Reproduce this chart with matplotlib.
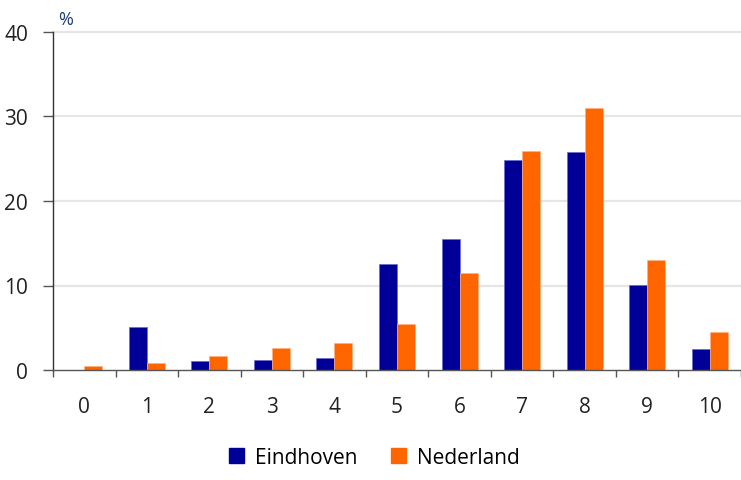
import matplotlib
matplotlib.use("Agg")
import matplotlib.pyplot as plt
import numpy as np
from matplotlib.patches import Patch

plt.rcParams['font.family'] = ['Open Sans', 'DejaVu Sans']

categories = ['0', '1', '2', '3', '4', '5', '6', '7', '8', '9', '10']
eindhoven = [0.0, 5.1, 1.05, 1.2, 1.4, 12.6, 15.5, 24.8, 25.8, 10.1, 2.5]
nederland = [0.45, 0.8, 1.6, 2.6, 3.15, 5.4, 11.5, 25.9, 31.0, 13.05, 4.45]
yticks = [0, 10, 20, 30, 40]

blue = '#000099'
orange = '#FF6600'

fig = plt.figure(figsize=(7.41, 4.81), dpi=100)
ax = fig.add_axes([53/741, 1-371/481, 1-53/741, (371-33)/481])

x = np.arange(len(categories))
w = 0.288
ax.bar(x - w/2, eindhoven, width=w, color=blue, edgecolor='#6a6ad0', linewidth=0.5, zorder=3)
ax.bar(x + w/2, nederland, width=w, color=orange, edgecolor='#ffb080', linewidth=0.5, zorder=3)

ax.set_xlim(-0.5, len(categories) - 0.5)
ax.set_ylim(0, 40)
ax.set_yticks(yticks)
ax.set_yticklabels([str(t) for t in yticks], fontsize=15, color='#222222')
ax.set_xticks(x)
ax.set_xticklabels(categories, fontsize=15, color='#222222')
ax.set_xticks(np.arange(-0.5, len(categories)), minor=True)
ax.tick_params(axis='x', which='major', length=0, pad=19)
ax.tick_params(axis='x', which='minor', length=5, width=1, color='#555555', direction='out')
ax.tick_params(axis='y', which='major', length=7, width=1, color='#555555', pad=11)

for y in yticks[1:]:
    ax.axhline(y, color='#e6e6e6', linewidth=1.6, zorder=1, clip_on=False)

for s in ['top', 'right']:
    ax.spines[s].set_visible(False)
ax.spines['left'].set_color('#333333')
ax.spines['bottom'].set_color('#555555')
ax.spines['left'].set_linewidth(1)
ax.spines['bottom'].set_linewidth(1)
ax.spines['bottom'].set_zorder(4)

fig.text(58/741, 1-20/481, '%', fontsize=13, color='#1f3c70', ha='left', va='center')

handles = [Patch(facecolor=blue, edgecolor=blue, label='Eindhoven'),
           Patch(facecolor=orange, edgecolor=orange, label='Nederland')]
fig.legend(handles=handles, loc='center', bbox_to_anchor=(0.505, 1-458/481), ncol=2,
           frameon=False, fontsize=15, handlelength=0.75, handleheight=0.75,
           handletextpad=0.5, columnspacing=1.6)

fig.savefig('out.png', dpi=100)
